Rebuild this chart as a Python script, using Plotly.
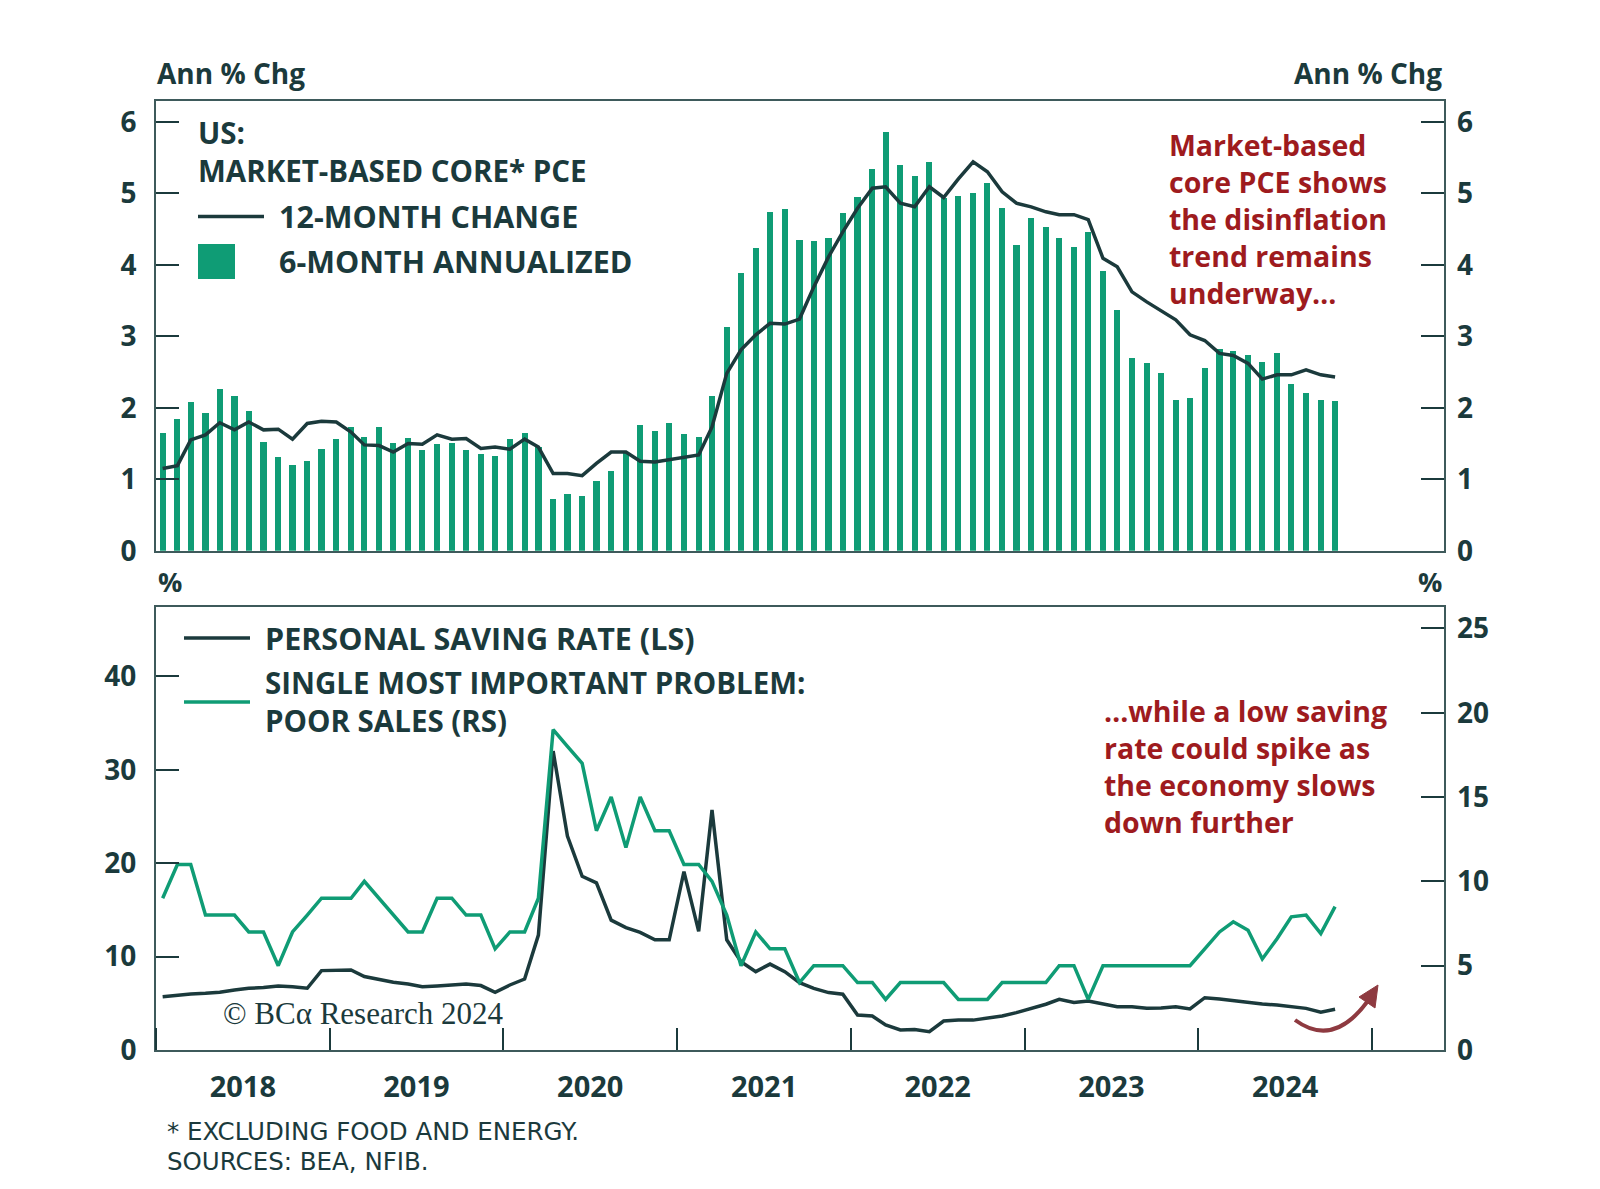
import pandas as pd
import plotly.graph_objects as go

# ---------------- data (monthly, Jan 2018 - Oct 2024) ----------------
months = pd.date_range("2018-01-01", periods=82, freq="MS") + pd.Timedelta(days=14)

pce_6m_annualized = [
    1.64, 1.84, 2.08, 1.92, 2.26, 2.17, 1.96, 1.52, 1.31, 1.20, 1.25, 1.42,
    1.56, 1.73, 1.59, 1.73, 1.50, 1.57, 1.41, 1.49, 1.50, 1.41, 1.35, 1.33,
    1.56, 1.64, 1.45, 0.72, 0.80, 0.77, 0.98, 1.11, 1.38, 1.76, 1.68, 1.78,
    1.63, 1.59, 2.16, 3.13, 3.88, 4.23, 4.74, 4.78, 4.35, 4.33, 4.38, 4.73,
    4.95, 5.34, 5.85, 5.39, 5.24, 5.44, 4.93, 4.96, 5.01, 5.15, 4.80, 4.28,
    4.66, 4.53, 4.38, 4.25, 4.46, 3.91, 3.37, 2.69, 2.62, 2.48, 2.11, 2.13,
    2.56, 2.82, 2.80, 2.74, 2.64, 2.76, 2.33, 2.21, 2.11, 2.10,
]
pce_12m_change = [
    1.15, 1.19, 1.55, 1.62, 1.79, 1.69, 1.80, 1.69, 1.70, 1.56, 1.78, 1.81,
    1.80, 1.66, 1.48, 1.47, 1.38, 1.50, 1.49, 1.62, 1.56, 1.57, 1.43, 1.45,
    1.42, 1.56, 1.45, 1.08, 1.08, 1.05, 1.22, 1.38, 1.38, 1.25, 1.24, 1.27,
    1.30, 1.34, 1.73, 2.48, 2.81, 3.02, 3.18, 3.17, 3.24, 3.69, 4.11, 4.46,
    4.79, 5.07, 5.09, 4.86, 4.81, 5.09, 4.94, 5.20, 5.44, 5.30, 5.02, 4.86,
    4.81, 4.74, 4.70, 4.70, 4.63, 4.09, 3.97, 3.62, 3.48, 3.36, 3.23, 3.02,
    2.94, 2.76, 2.73, 2.62, 2.40, 2.46, 2.46, 2.53, 2.46, 2.43,
]
saving_rate = [
    5.71, 5.90, 6.00, 6.07, 6.18, 6.43, 6.61, 6.68, 6.86, 6.78, 6.61, 8.50,
    8.57, 8.57, 7.86, 7.57, 7.25, 7.07, 6.78, 6.86, 6.96, 7.07, 6.90, 6.18,
    6.96, 7.60, 12.3, 32.0, 22.9, 18.6, 17.9, 13.9, 13.1, 12.6, 11.8, 11.8,
    19.1, 12.7, 25.7, 11.8, 9.46, 8.39, 9.20, 8.39, 7.20, 6.60, 6.15, 5.97,
    3.75, 3.64, 2.68, 2.14, 2.20, 1.96, 3.10, 3.20, 3.20, 3.40, 3.64, 4.00,
    4.46, 4.90, 5.43, 5.10, 5.25, 4.93, 4.64, 4.64, 4.46, 4.50, 4.64, 4.39,
    5.60, 5.47, 5.29, 5.11, 4.93, 4.82, 4.64, 4.46, 4.04, 4.36,
]
poor_sales = [
    9, 11, 11, 8, 8, 8, 7, 7, 5, 7, 8, 9,
    9, 9, 10, 9, 8, 7, 7, 9, 9, 8, 8, 6,
    7, 7, 9, 19, 18, 17, 13, 15, 12, 15, 13, 13,
    11, 11, 10, 8, 5, 7, 6, 6, 4, 5, 5, 5,
    4, 4, 3, 4, 4, 4, 4, 3, 3, 3, 4, 4,
    4, 4, 5, 5, 3, 5, 5, 5, 5, 5, 5, 5,
    6, 7, 7.6, 7.1, 5.4, 6.6, 7.9, 8.0, 6.9, 8.5,
]
top_ticks = [0, 1, 2, 3, 4, 5, 6]
left_ticks = [0, 10, 20, 30, 40]
right_ticks = [0, 5, 10, 15, 20, 25]

# ---------------- style ----------------
GREEN = "#0F9C75"
DARK = "#1B3A3C"
FRAME = "#3E5A5B"
RED = "#9E1B1E"
ARROW = "#8E3A40"
FONT = "Open Sans"

W, H = 1600, 1189
OFF = 8  # page body margin: screen coords = figure coords + OFF
SL, SR, ST, SB = 156, 1444, 101, 1050  # plot area in screen coordinates
L, R, T, B = SL - OFF, SR - OFF, ST - OFF, SB - OFF


def px(x):
    return (x - SL) / (SR - SL)


def py(y):
    return (SB - y) / (SB - ST)


x_range = ["2018-01-01", "2025-06-01"]
bar_width_ms = 13.0 * 86400000

fig = go.Figure()
fig.add_trace(go.Bar(x=months, y=pce_6m_annualized, width=bar_width_ms,
                     marker=dict(color=GREEN, line=dict(width=0)),
                     xaxis="x", yaxis="y", showlegend=False))
fig.add_trace(go.Scatter(x=months, y=pce_12m_change, mode="lines",
                         line=dict(color=DARK, width=3.5),
                         xaxis="x", yaxis="y", showlegend=False))
fig.add_trace(go.Scatter(x=months, y=saving_rate, mode="lines",
                         line=dict(color=DARK, width=3.5),
                         xaxis="x2", yaxis="y3", showlegend=False))
fig.add_trace(go.Scatter(x=months, y=poor_sales, mode="lines",
                         line=dict(color=GREEN, width=3.5),
                         xaxis="x2", yaxis="y4", showlegend=False))
fig.add_trace(go.Scatter(x=[months[0]], y=[None], xaxis="x", yaxis="y2",
                         showlegend=False, hoverinfo="skip"))

top_dom = [py(550.7), 1]
bot_dom = [0, py(607.3)]

tickfont = dict(family=FONT, size=28, color=DARK, weight=700)
common_y = dict(showgrid=False, zeroline=False, ticks="inside", ticklen=23,
                tickwidth=2, tickcolor=DARK, tickfont=tickfont,
                ticklabelstandoff=12)

fig.update_layout(
    width=W, height=H,
    margin=dict(l=L, r=W - R, t=T, b=H - B),
    paper_bgcolor="white", plot_bgcolor="white",
    font=dict(family=FONT, color=DARK),
    bargap=0,
    xaxis=dict(domain=[0, 1], anchor="y", type="date", range=x_range,
               showgrid=False, zeroline=False, showticklabels=False, ticks="",
               showline=True, mirror=True, linecolor=FRAME, linewidth=2),
    yaxis=dict(domain=top_dom, anchor="x", range=[0, 6.29], tickvals=top_ticks,
               showline=True, mirror=True, linecolor=FRAME, linewidth=2,
               **common_y),
    yaxis2=dict(overlaying="y", side="right", anchor="x", range=[0, 6.29],
                tickvals=top_ticks, showline=False, **common_y),
    xaxis2=dict(domain=[0, 1], anchor="y3", type="date", range=x_range,
                showgrid=False, zeroline=False, tick0="2018-01-01", dtick="M12",
                tickformat="%Y", ticklabelmode="period", ticks="inside",
                ticklen=22, tickwidth=2, tickcolor=DARK,
                tickfont=dict(family=FONT, size=29, color=DARK, weight=700),
                ticklabelstandoff=10,
                showline=True, mirror=True, linecolor=FRAME, linewidth=2),
    yaxis3=dict(domain=bot_dom, anchor="x2", range=[0, 47.4], tickvals=left_ticks,
                showline=True, mirror=True, linecolor=FRAME, linewidth=2,
                **common_y),
    yaxis4=dict(overlaying="y3", side="right", anchor="x2", range=[0, 26.25],
                tickvals=right_ticks, showline=False, **common_y),
)

ann = []


def text(x, y, s, size=30.5, color=DARK, xanchor="left", family=FONT, weight=700):
    ann.append(dict(x=px(x), y=py(y), xref="paper", yref="paper", text=s,
                    showarrow=False, xanchor=xanchor, yanchor="middle",
                    align="left" if xanchor == "left" else "right",
                    font=dict(family=family, size=size, color=color, weight=weight)))


# axis unit labels
text(155, 73, "Ann % Chg", size=28)
text(1444, 73, "Ann % Chg", size=28, xanchor="right")
text(156, 581, "%", size=27)
text(1444, 581, "%", size=27, xanchor="right")

# top legend
text(196, 151.5, "US:<br>MARKET-BASED CORE* PCE", size=29.5)
text(277, 216, "12-MONTH CHANGE")
text(277, 261, "6-MONTH ANNUALIZED")

# bottom legend
text(263, 638, "PERSONAL SAVING RATE (LS)")
text(263, 701, "SINGLE MOST IMPORTANT PROBLEM:<br>POOR SALES (RS)", size=29.5)

# red annotations
text(1167, 218.5, "<br>".join(["Market-based", "core PCE shows", "the disinflation",
                               "trend remains", "underway…"]), size=28.5, color=RED)
text(1102, 766, "<br>".join(["…while a low saving", "rate could spike as",
                             "the economy slows", "down further"]), size=28.5, color=RED)

# copyright
text(221, 1013, "© BCα Research 2024", size=31, family="Liberation Serif", weight=400)

# footnotes
text(165, 1131, "* EXCLUDING FOOD AND ENERGY.", size=24.5, family="DejaVu Sans", weight=400)
text(165, 1161, "SOURCES: BEA, NFIB.", size=24.5, family="DejaVu Sans", weight=400)

fig.update_layout(annotations=ann)

shapes = []
# legend swatches
shapes.append(dict(type="line", xref="paper", yref="paper",
                   x0=px(198), x1=px(264), y0=py(216.5), y1=py(216.5),
                   line=dict(color=DARK, width=3.5)))
shapes.append(dict(type="rect", xref="paper", yref="paper",
                   x0=px(198), x1=px(235), y0=py(279), y1=py(244),
                   fillcolor=GREEN, line=dict(width=0)))
shapes.append(dict(type="line", xref="paper", yref="paper",
                   x0=px(184), x1=px(250), y0=py(638), y1=py(638),
                   line=dict(color=DARK, width=3.5)))
shapes.append(dict(type="line", xref="paper", yref="paper",
                   x0=px(184), x1=px(250), y0=py(702), y1=py(702),
                   line=dict(color=GREEN, width=3.5)))


def P(x, y):
    return f"{px(x):.5f},{py(y):.5f}"


# curved arrow
shapes.append(dict(type="path", xref="paper", yref="paper",
                   path=f"M {P(1295, 1020)} Q {P(1333, 1048)} {P(1367, 1002)}",
                   line=dict(color=ARROW, width=4)))
shapes.append(dict(type="path", xref="paper", yref="paper",
                   path=f"M {P(1378, 985)} L {P(1375, 1008)} L {P(1359, 997)} Z",
                   fillcolor=ARROW, line=dict(color=ARROW, width=1)))
fig.update_layout(shapes=shapes)

fig.write_html("out.html")
